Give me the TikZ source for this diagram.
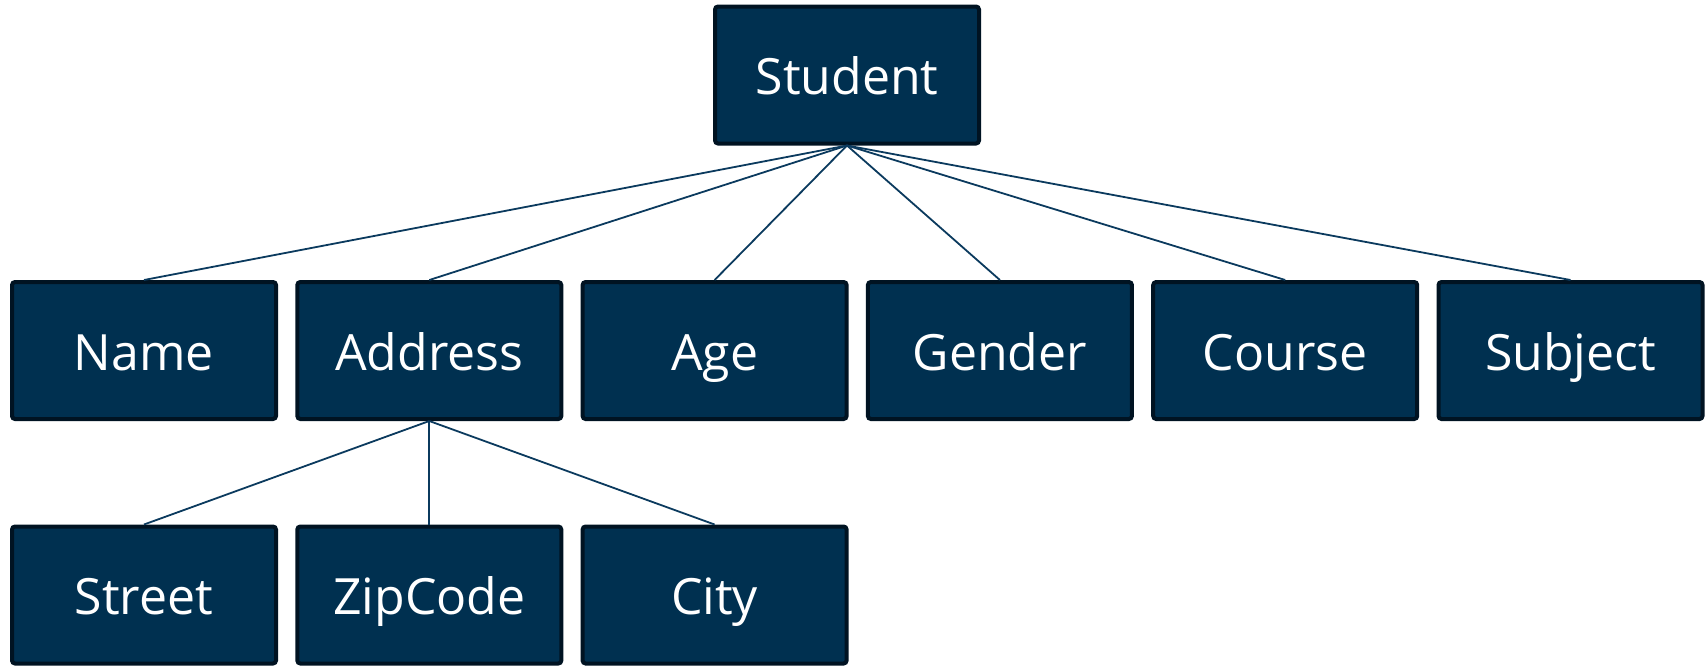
\documentclass[tikz,border=0pt]{standalone}
\usepackage{fontspec}
\setmainfont{Open Sans}
\definecolor{boxfill}{HTML}{003050}
\definecolor{boxedge}{HTML}{001322}
\definecolor{linkcol}{HTML}{0B3A5E}
\begin{document}
\begin{tikzpicture}[x=0.5pt,y=-0.5pt,
  entity/.style={draw=boxedge, fill=boxfill, line width=2pt, rounded corners=1.5pt,
    minimum width=132pt, minimum height=68.5pt, inner sep=0pt,
    text height=22pt, text depth=2.5pt,
    text=white, font=\fontsize{25}{29}\selectfont},
  link/.style={draw=linkcol, line width=0.9pt}]
\useasboundingbox (0,0) rectangle (1707,665);
\node[entity] (student) at (847,75) {Student};
\node[entity] (name) at (144,350.5) {Name};
\node[entity] (address) at (429.3,350.5) {Address};
\node[entity] (age) at (714.6,350.5) {Age};
\node[entity] (gender) at (999.9,350.5) {Gender};
\node[entity] (course) at (1285.2,350.5) {Course};
\node[entity] (subject) at (1570.5,350.5) {Subject};
\node[entity] (street) at (144,595) {Street};
\node[entity] (zip) at (429.3,595) {ZipCode};
\node[entity] (city) at (714.6,595) {City};
\foreach \c in {name,address,age,gender,course,subject}
  \draw[link] (student.south) -- (\c.north);
\foreach \c in {street,zip,city}
  \draw[link] (address.south) -- (\c.north);
\end{tikzpicture}
\end{document}
